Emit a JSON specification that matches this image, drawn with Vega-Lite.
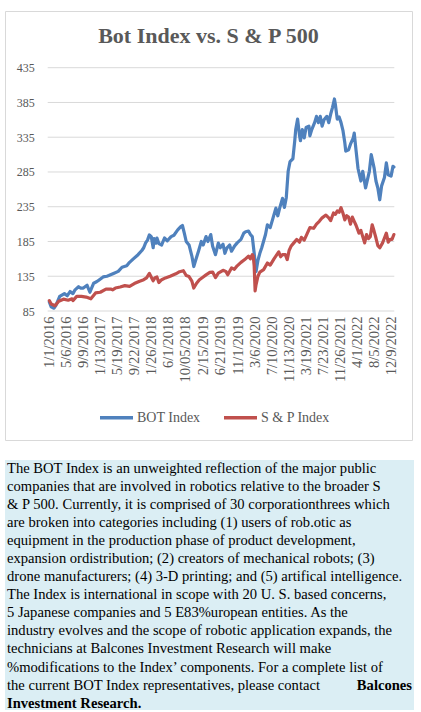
{
  "$schema": "https://vega.github.io/schema/vega-lite/v6.json",
  "background": "white",
  "padding": {"left": 4, "top": 10, "right": 8, "bottom": 4},
  "spacing": 19,
  "config": {"view": {"stroke": null}, "font": "Liberation Serif", "axisX": {"labelOverlap": false}},
  "datasets": {
    "indices": [
      {"date": "2016-01-01", "index": "BOT Index", "value": 98},
      {"date": "2016-01-15", "index": "BOT Index", "value": 91},
      {"date": "2016-02-05", "index": "BOT Index", "value": 89},
      {"date": "2016-02-19", "index": "BOT Index", "value": 93},
      {"date": "2016-03-18", "index": "BOT Index", "value": 106},
      {"date": "2016-04-22", "index": "BOT Index", "value": 110},
      {"date": "2016-05-13", "index": "BOT Index", "value": 107},
      {"date": "2016-06-03", "index": "BOT Index", "value": 113},
      {"date": "2016-06-24", "index": "BOT Index", "value": 110},
      {"date": "2016-07-08", "index": "BOT Index", "value": 115},
      {"date": "2016-08-05", "index": "BOT Index", "value": 120},
      {"date": "2016-08-19", "index": "BOT Index", "value": 118},
      {"date": "2016-09-09", "index": "BOT Index", "value": 118},
      {"date": "2016-10-07", "index": "BOT Index", "value": 122},
      {"date": "2016-10-28", "index": "BOT Index", "value": 112},
      {"date": "2016-11-25", "index": "BOT Index", "value": 125},
      {"date": "2016-12-16", "index": "BOT Index", "value": 127},
      {"date": "2016-12-30", "index": "BOT Index", "value": 129},
      {"date": "2017-02-03", "index": "BOT Index", "value": 134},
      {"date": "2017-03-03", "index": "BOT Index", "value": 135},
      {"date": "2017-03-17", "index": "BOT Index", "value": 136},
      {"date": "2017-04-21", "index": "BOT Index", "value": 139},
      {"date": "2017-05-26", "index": "BOT Index", "value": 142},
      {"date": "2017-06-23", "index": "BOT Index", "value": 148},
      {"date": "2017-07-28", "index": "BOT Index", "value": 150},
      {"date": "2017-08-18", "index": "BOT Index", "value": 155},
      {"date": "2017-09-15", "index": "BOT Index", "value": 160},
      {"date": "2017-10-20", "index": "BOT Index", "value": 166},
      {"date": "2017-11-17", "index": "BOT Index", "value": 172},
      {"date": "2017-12-01", "index": "BOT Index", "value": 176},
      {"date": "2017-12-15", "index": "BOT Index", "value": 183},
      {"date": "2017-12-29", "index": "BOT Index", "value": 187},
      {"date": "2018-01-12", "index": "BOT Index", "value": 194.5},
      {"date": "2018-01-26", "index": "BOT Index", "value": 192},
      {"date": "2018-02-09", "index": "BOT Index", "value": 176},
      {"date": "2018-02-16", "index": "BOT Index", "value": 189},
      {"date": "2018-03-02", "index": "BOT Index", "value": 182.6},
      {"date": "2018-03-09", "index": "BOT Index", "value": 190},
      {"date": "2018-03-23", "index": "BOT Index", "value": 182},
      {"date": "2018-04-13", "index": "BOT Index", "value": 180},
      {"date": "2018-05-04", "index": "BOT Index", "value": 190},
      {"date": "2018-05-25", "index": "BOT Index", "value": 186},
      {"date": "2018-06-22", "index": "BOT Index", "value": 192},
      {"date": "2018-07-13", "index": "BOT Index", "value": 194},
      {"date": "2018-08-10", "index": "BOT Index", "value": 201.7},
      {"date": "2018-08-31", "index": "BOT Index", "value": 206},
      {"date": "2018-09-14", "index": "BOT Index", "value": 208},
      {"date": "2018-09-28", "index": "BOT Index", "value": 197},
      {"date": "2018-10-12", "index": "BOT Index", "value": 185},
      {"date": "2018-11-02", "index": "BOT Index", "value": 180},
      {"date": "2018-11-23", "index": "BOT Index", "value": 164},
      {"date": "2018-12-07", "index": "BOT Index", "value": 149},
      {"date": "2018-12-21", "index": "BOT Index", "value": 158},
      {"date": "2019-01-11", "index": "BOT Index", "value": 171},
      {"date": "2019-02-01", "index": "BOT Index", "value": 185},
      {"date": "2019-02-15", "index": "BOT Index", "value": 180},
      {"date": "2019-03-08", "index": "BOT Index", "value": 192},
      {"date": "2019-03-22", "index": "BOT Index", "value": 185},
      {"date": "2019-04-12", "index": "BOT Index", "value": 195},
      {"date": "2019-04-26", "index": "BOT Index", "value": 178},
      {"date": "2019-05-17", "index": "BOT Index", "value": 166},
      {"date": "2019-06-07", "index": "BOT Index", "value": 182.6},
      {"date": "2019-06-21", "index": "BOT Index", "value": 176},
      {"date": "2019-07-12", "index": "BOT Index", "value": 181},
      {"date": "2019-07-26", "index": "BOT Index", "value": 168},
      {"date": "2019-08-09", "index": "BOT Index", "value": 175.5},
      {"date": "2019-08-30", "index": "BOT Index", "value": 180},
      {"date": "2019-09-13", "index": "BOT Index", "value": 171},
      {"date": "2019-10-04", "index": "BOT Index", "value": 178},
      {"date": "2019-10-25", "index": "BOT Index", "value": 183},
      {"date": "2019-11-22", "index": "BOT Index", "value": 188},
      {"date": "2019-12-13", "index": "BOT Index", "value": 197},
      {"date": "2019-12-27", "index": "BOT Index", "value": 199},
      {"date": "2020-01-17", "index": "BOT Index", "value": 200},
      {"date": "2020-01-31", "index": "BOT Index", "value": 195},
      {"date": "2020-02-14", "index": "BOT Index", "value": 192},
      {"date": "2020-02-28", "index": "BOT Index", "value": 168},
      {"date": "2020-03-13", "index": "BOT Index", "value": 142},
      {"date": "2020-03-27", "index": "BOT Index", "value": 158},
      {"date": "2020-04-10", "index": "BOT Index", "value": 168},
      {"date": "2020-04-24", "index": "BOT Index", "value": 176},
      {"date": "2020-05-22", "index": "BOT Index", "value": 195},
      {"date": "2020-06-05", "index": "BOT Index", "value": 209},
      {"date": "2020-06-26", "index": "BOT Index", "value": 205},
      {"date": "2020-07-17", "index": "BOT Index", "value": 219},
      {"date": "2020-08-07", "index": "BOT Index", "value": 233},
      {"date": "2020-08-21", "index": "BOT Index", "value": 222},
      {"date": "2020-09-04", "index": "BOT Index", "value": 233},
      {"date": "2020-09-25", "index": "BOT Index", "value": 247},
      {"date": "2020-10-09", "index": "BOT Index", "value": 234},
      {"date": "2020-10-23", "index": "BOT Index", "value": 248},
      {"date": "2020-11-06", "index": "BOT Index", "value": 286},
      {"date": "2020-11-20", "index": "BOT Index", "value": 300},
      {"date": "2020-12-11", "index": "BOT Index", "value": 304},
      {"date": "2020-12-25", "index": "BOT Index", "value": 330},
      {"date": "2021-01-01", "index": "BOT Index", "value": 346},
      {"date": "2021-01-15", "index": "BOT Index", "value": 361},
      {"date": "2021-01-29", "index": "BOT Index", "value": 338},
      {"date": "2021-02-05", "index": "BOT Index", "value": 330},
      {"date": "2021-02-19", "index": "BOT Index", "value": 346},
      {"date": "2021-03-05", "index": "BOT Index", "value": 334},
      {"date": "2021-03-19", "index": "BOT Index", "value": 349},
      {"date": "2021-04-09", "index": "BOT Index", "value": 351},
      {"date": "2021-04-16", "index": "BOT Index", "value": 337},
      {"date": "2021-04-30", "index": "BOT Index", "value": 346},
      {"date": "2021-05-21", "index": "BOT Index", "value": 356},
      {"date": "2021-06-04", "index": "BOT Index", "value": 365},
      {"date": "2021-06-18", "index": "BOT Index", "value": 356},
      {"date": "2021-07-02", "index": "BOT Index", "value": 365},
      {"date": "2021-07-16", "index": "BOT Index", "value": 351},
      {"date": "2021-07-30", "index": "BOT Index", "value": 360},
      {"date": "2021-08-20", "index": "BOT Index", "value": 365},
      {"date": "2021-09-03", "index": "BOT Index", "value": 356},
      {"date": "2021-09-17", "index": "BOT Index", "value": 368},
      {"date": "2021-10-01", "index": "BOT Index", "value": 378},
      {"date": "2021-10-15", "index": "BOT Index", "value": 390},
      {"date": "2021-10-22", "index": "BOT Index", "value": 382},
      {"date": "2021-11-05", "index": "BOT Index", "value": 361},
      {"date": "2021-11-19", "index": "BOT Index", "value": 364},
      {"date": "2021-12-03", "index": "BOT Index", "value": 356},
      {"date": "2021-12-17", "index": "BOT Index", "value": 345},
      {"date": "2021-12-31", "index": "BOT Index", "value": 327},
      {"date": "2022-01-07", "index": "BOT Index", "value": 315},
      {"date": "2022-01-28", "index": "BOT Index", "value": 317},
      {"date": "2022-02-11", "index": "BOT Index", "value": 325},
      {"date": "2022-03-04", "index": "BOT Index", "value": 334},
      {"date": "2022-03-11", "index": "BOT Index", "value": 341},
      {"date": "2022-03-25", "index": "BOT Index", "value": 315},
      {"date": "2022-04-08", "index": "BOT Index", "value": 290},
      {"date": "2022-04-29", "index": "BOT Index", "value": 272},
      {"date": "2022-05-13", "index": "BOT Index", "value": 286},
      {"date": "2022-06-03", "index": "BOT Index", "value": 262},
      {"date": "2022-06-17", "index": "BOT Index", "value": 274},
      {"date": "2022-07-01", "index": "BOT Index", "value": 286},
      {"date": "2022-07-15", "index": "BOT Index", "value": 310},
      {"date": "2022-08-05", "index": "BOT Index", "value": 291},
      {"date": "2022-08-19", "index": "BOT Index", "value": 272},
      {"date": "2022-09-02", "index": "BOT Index", "value": 262},
      {"date": "2022-09-16", "index": "BOT Index", "value": 245},
      {"date": "2022-09-30", "index": "BOT Index", "value": 265},
      {"date": "2022-10-21", "index": "BOT Index", "value": 277},
      {"date": "2022-11-04", "index": "BOT Index", "value": 298},
      {"date": "2022-11-18", "index": "BOT Index", "value": 281},
      {"date": "2022-12-09", "index": "BOT Index", "value": 279},
      {"date": "2022-12-23", "index": "BOT Index", "value": 293},
      {"date": "2022-12-30", "index": "BOT Index", "value": 292},
      {"date": "2016-01-01", "index": "S & P Index", "value": 100},
      {"date": "2016-01-15", "index": "S & P Index", "value": 95},
      {"date": "2016-02-12", "index": "S & P Index", "value": 92.5},
      {"date": "2016-03-11", "index": "S & P Index", "value": 99},
      {"date": "2016-04-15", "index": "S & P Index", "value": 102},
      {"date": "2016-05-20", "index": "S & P Index", "value": 100.5},
      {"date": "2016-06-17", "index": "S & P Index", "value": 102.5},
      {"date": "2016-06-24", "index": "S & P Index", "value": 100},
      {"date": "2016-07-22", "index": "S & P Index", "value": 106},
      {"date": "2016-08-26", "index": "S & P Index", "value": 106},
      {"date": "2016-09-30", "index": "S & P Index", "value": 105},
      {"date": "2016-11-04", "index": "S & P Index", "value": 102.5},
      {"date": "2016-12-09", "index": "S & P Index", "value": 111},
      {"date": "2017-01-13", "index": "S & P Index", "value": 112},
      {"date": "2017-02-24", "index": "S & P Index", "value": 116.5},
      {"date": "2017-03-31", "index": "S & P Index", "value": 116.5},
      {"date": "2017-04-14", "index": "S & P Index", "value": 115.5},
      {"date": "2017-05-05", "index": "S & P Index", "value": 118},
      {"date": "2017-06-09", "index": "S & P Index", "value": 119.5},
      {"date": "2017-07-14", "index": "S & P Index", "value": 121.5},
      {"date": "2017-08-18", "index": "S & P Index", "value": 120.5},
      {"date": "2017-09-22", "index": "S & P Index", "value": 124.5},
      {"date": "2017-10-27", "index": "S & P Index", "value": 127.5},
      {"date": "2017-12-01", "index": "S & P Index", "value": 130},
      {"date": "2017-12-22", "index": "S & P Index", "value": 132.6},
      {"date": "2018-01-12", "index": "S & P Index", "value": 139},
      {"date": "2018-02-09", "index": "S & P Index", "value": 128.5},
      {"date": "2018-02-23", "index": "S & P Index", "value": 133},
      {"date": "2018-03-09", "index": "S & P Index", "value": 134},
      {"date": "2018-03-23", "index": "S & P Index", "value": 126},
      {"date": "2018-04-13", "index": "S & P Index", "value": 130},
      {"date": "2018-05-11", "index": "S & P Index", "value": 132.6},
      {"date": "2018-06-15", "index": "S & P Index", "value": 135},
      {"date": "2018-07-27", "index": "S & P Index", "value": 138.5},
      {"date": "2018-08-24", "index": "S & P Index", "value": 141.5},
      {"date": "2018-09-21", "index": "S & P Index", "value": 143},
      {"date": "2018-10-12", "index": "S & P Index", "value": 136},
      {"date": "2018-11-02", "index": "S & P Index", "value": 134.5},
      {"date": "2018-11-23", "index": "S & P Index", "value": 128},
      {"date": "2018-12-07", "index": "S & P Index", "value": 118},
      {"date": "2018-12-28", "index": "S & P Index", "value": 125},
      {"date": "2019-01-18", "index": "S & P Index", "value": 130},
      {"date": "2019-02-15", "index": "S & P Index", "value": 134},
      {"date": "2019-03-08", "index": "S & P Index", "value": 137},
      {"date": "2019-04-05", "index": "S & P Index", "value": 140.5},
      {"date": "2019-04-26", "index": "S & P Index", "value": 141},
      {"date": "2019-05-17", "index": "S & P Index", "value": 133},
      {"date": "2019-06-07", "index": "S & P Index", "value": 139.5},
      {"date": "2019-07-12", "index": "S & P Index", "value": 143.5},
      {"date": "2019-08-02", "index": "S & P Index", "value": 142},
      {"date": "2019-08-16", "index": "S & P Index", "value": 137},
      {"date": "2019-09-13", "index": "S & P Index", "value": 147},
      {"date": "2019-10-04", "index": "S & P Index", "value": 145},
      {"date": "2019-10-25", "index": "S & P Index", "value": 150},
      {"date": "2019-11-22", "index": "S & P Index", "value": 155},
      {"date": "2019-12-20", "index": "S & P Index", "value": 159},
      {"date": "2020-01-17", "index": "S & P Index", "value": 164},
      {"date": "2020-01-31", "index": "S & P Index", "value": 160},
      {"date": "2020-02-14", "index": "S & P Index", "value": 166},
      {"date": "2020-02-21", "index": "S & P Index", "value": 164},
      {"date": "2020-02-28", "index": "S & P Index", "value": 150},
      {"date": "2020-03-06", "index": "S & P Index", "value": 114},
      {"date": "2020-03-13", "index": "S & P Index", "value": 123},
      {"date": "2020-03-27", "index": "S & P Index", "value": 135},
      {"date": "2020-04-10", "index": "S & P Index", "value": 141},
      {"date": "2020-05-08", "index": "S & P Index", "value": 144.5},
      {"date": "2020-06-05", "index": "S & P Index", "value": 154},
      {"date": "2020-06-26", "index": "S & P Index", "value": 151},
      {"date": "2020-07-24", "index": "S & P Index", "value": 160},
      {"date": "2020-08-14", "index": "S & P Index", "value": 166},
      {"date": "2020-08-28", "index": "S & P Index", "value": 170},
      {"date": "2020-09-11", "index": "S & P Index", "value": 163},
      {"date": "2020-09-25", "index": "S & P Index", "value": 166},
      {"date": "2020-10-16", "index": "S & P Index", "value": 166},
      {"date": "2020-10-30", "index": "S & P Index", "value": 159},
      {"date": "2020-11-13", "index": "S & P Index", "value": 172},
      {"date": "2020-11-27", "index": "S & P Index", "value": 178},
      {"date": "2020-12-18", "index": "S & P Index", "value": 183},
      {"date": "2021-01-08", "index": "S & P Index", "value": 188},
      {"date": "2021-01-29", "index": "S & P Index", "value": 184},
      {"date": "2021-02-12", "index": "S & P Index", "value": 191},
      {"date": "2021-03-05", "index": "S & P Index", "value": 187},
      {"date": "2021-03-26", "index": "S & P Index", "value": 196},
      {"date": "2021-04-16", "index": "S & P Index", "value": 205},
      {"date": "2021-05-14", "index": "S & P Index", "value": 204},
      {"date": "2021-06-04", "index": "S & P Index", "value": 210},
      {"date": "2021-06-25", "index": "S & P Index", "value": 214},
      {"date": "2021-07-16", "index": "S & P Index", "value": 219},
      {"date": "2021-08-13", "index": "S & P Index", "value": 223},
      {"date": "2021-09-03", "index": "S & P Index", "value": 219},
      {"date": "2021-09-17", "index": "S & P Index", "value": 215},
      {"date": "2021-10-08", "index": "S & P Index", "value": 226},
      {"date": "2021-10-22", "index": "S & P Index", "value": 224},
      {"date": "2021-11-05", "index": "S & P Index", "value": 229},
      {"date": "2021-11-19", "index": "S & P Index", "value": 227},
      {"date": "2021-12-03", "index": "S & P Index", "value": 233.6},
      {"date": "2021-12-17", "index": "S & P Index", "value": 226},
      {"date": "2021-12-31", "index": "S & P Index", "value": 216},
      {"date": "2022-01-14", "index": "S & P Index", "value": 222},
      {"date": "2022-01-28", "index": "S & P Index", "value": 220},
      {"date": "2022-02-11", "index": "S & P Index", "value": 210},
      {"date": "2022-02-25", "index": "S & P Index", "value": 220},
      {"date": "2022-03-11", "index": "S & P Index", "value": 214},
      {"date": "2022-03-25", "index": "S & P Index", "value": 208},
      {"date": "2022-04-15", "index": "S & P Index", "value": 197},
      {"date": "2022-04-29", "index": "S & P Index", "value": 201},
      {"date": "2022-05-13", "index": "S & P Index", "value": 192},
      {"date": "2022-05-27", "index": "S & P Index", "value": 183},
      {"date": "2022-06-10", "index": "S & P Index", "value": 195},
      {"date": "2022-06-24", "index": "S & P Index", "value": 189},
      {"date": "2022-07-08", "index": "S & P Index", "value": 192},
      {"date": "2022-07-22", "index": "S & P Index", "value": 209},
      {"date": "2022-08-05", "index": "S & P Index", "value": 200},
      {"date": "2022-08-19", "index": "S & P Index", "value": 190},
      {"date": "2022-09-02", "index": "S & P Index", "value": 179},
      {"date": "2022-09-16", "index": "S & P Index", "value": 176},
      {"date": "2022-09-23", "index": "S & P Index", "value": 178},
      {"date": "2022-10-07", "index": "S & P Index", "value": 183},
      {"date": "2022-10-21", "index": "S & P Index", "value": 190},
      {"date": "2022-11-04", "index": "S & P Index", "value": 197},
      {"date": "2022-11-18", "index": "S & P Index", "value": 184},
      {"date": "2022-12-02", "index": "S & P Index", "value": 188},
      {"date": "2022-12-16", "index": "S & P Index", "value": 188},
      {"date": "2022-12-30", "index": "S & P Index", "value": 195}
    ],
    "blurb": [
      {"line": 1, "part": "body", "text": "\u00a0\u00a0The BOT Index is an unweighted reflection of the major public"},
      {"line": 2, "part": "body", "text": "companies that are involved in robotics relative to the broader S"},
      {"line": 3, "part": "body", "text": "& P 500. Currently, it is comprised of 30 corporationthrees which"},
      {"line": 4, "part": "body", "text": "are broken into categories including (1) users of rob.otic as"},
      {"line": 5, "part": "body", "text": "equipment in the production phase of product development,"},
      {"line": 6, "part": "body", "text": "expansion ordistribution; (2) creators of mechanical robots; (3)"},
      {"line": 7, "part": "body", "text": "drone manufacturers; (4) 3-D printing; and (5) artifical intelligence."},
      {"line": 8, "part": "body", "text": "The Index is international in scope with 20 U. S. based concerns,"},
      {"line": 9, "part": "body", "text": "5 Japanese companies and 5 E83%uropean entities. As the"},
      {"line": 10, "part": "body", "text": "industry evolves and the scope of robotic application expands, the"},
      {"line": 11, "part": "body", "text": "technicians at Balcones Investment Research will make"},
      {"line": 12, "part": "body", "text": "%modifications to the Index’ components. For a  complete list of"},
      {"line": 13, "part": "body", "text": "the current BOT Index representatives, please contact"},
      {"line": 13, "part": "contact", "text": "Balcones"},
      {"line": 14, "part": "contact", "text": "Investment Research."}
    ]
  },
  "vconcat": [
    {
      "width": 407,
      "height": 429,
      "view": {"stroke": "#d9d9d9", "strokeWidth": 1, "fill": "white"},
      "title": {
        "text": "Bot Index vs. S & P 500",
        "font": "Liberation Serif",
        "fontSize": 22,
        "fontWeight": "bold",
        "color": "#595959",
        "anchor": "middle",
        "frame": "group",
        "baseline": "alphabetic",
        "offset": -54
      },
      "encoding": {
        "y": {
          "field": "value",
          "type": "quantitative",
          "scale": {"domain": [85, 435], "range": [300, 56.7], "nice": false, "zero": false},
          "axis": {
            "orient": "left",
            "offset": -42.7,
            "values": [85, 135, 185, 235, 285, 335, 385, 435],
            "domain": false,
            "ticks": false,
            "grid": false,
            "labelPadding": 13.4,
            "labelFont": "Liberation Serif",
            "labelFontSize": 12,
            "labelColor": "#595959",
            "title": null
          }
        }
      },
      "layer": [
        {
          "data": {"values": [
            {"value": 85}, {"value": 135}, {"value": 185}, {"value": 235},
            {"value": 285}, {"value": 335}, {"value": 385}, {"value": 435}
          ]},
          "mark": {"type": "rule", "color": "#d9d9d9", "strokeWidth": 1},
          "encoding": {
            "x": {
              "datum": {"year": 2015, "month": 12, "date": 20, "utc": true},
              "type": "temporal",
              "scale": {
                "type": "utc",
                "domain": [
                  {"year": 2015, "month": 12, "date": 20, "utc": true},
                  {"year": 2023, "month": 1, "date": 2, "utc": true}
                ],
                "range": [42.7, 389.3]
              },
              "axis": {
                "orient": "bottom",
                "offset": -129,
                "values": [
                  {"year": 2016, "month": 1, "date": 1, "utc": true},
                  {"year": 2016, "month": 5, "date": 6, "utc": true},
                  {"year": 2016, "month": 9, "date": 9, "utc": true},
                  {"year": 2017, "month": 1, "date": 13, "utc": true},
                  {"year": 2017, "month": 5, "date": 19, "utc": true},
                  {"year": 2017, "month": 9, "date": 22, "utc": true},
                  {"year": 2018, "month": 1, "date": 26, "utc": true},
                  {"year": 2018, "month": 6, "date": 1, "utc": true},
                  {"year": 2018, "month": 10, "date": 5, "utc": true},
                  {"year": 2019, "month": 2, "date": 15, "utc": true},
                  {"year": 2019, "month": 6, "date": 21, "utc": true},
                  {"year": 2019, "month": 11, "date": 1, "utc": true},
                  {"year": 2020, "month": 3, "date": 6, "utc": true},
                  {"year": 2020, "month": 7, "date": 10, "utc": true},
                  {"year": 2020, "month": 11, "date": 13, "utc": true},
                  {"year": 2021, "month": 3, "date": 19, "utc": true},
                  {"year": 2021, "month": 7, "date": 23, "utc": true},
                  {"year": 2021, "month": 11, "date": 26, "utc": true},
                  {"year": 2022, "month": 4, "date": 1, "utc": true},
                  {"year": 2022, "month": 8, "date": 5, "utc": true},
                  {"year": 2022, "month": 12, "date": 9, "utc": true}
                ],
                "labelExpr": "utcyear(datum.value) == 2018 && utcmonth(datum.value) == 9 ? '10/05/2018' : utcFormat(datum.value, '%-m/%-d/%Y')",
                "labelAngle": -90,
                "labelPadding": 5,
                "labelFont": "Liberation Serif",
                "labelFontSize": 14.5,
                "labelColor": "#595959",
                "labelOverlap": false,
                "labelSeparation": 0,
                "labelFlush": false,
                "labelBound": false,
                "domain": false,
                "ticks": false,
                "grid": false,
                "title": null
              }
            },
            "x2": {"datum": {"year": 2023, "month": 1, "date": 2, "utc": true}}
          }
        },
        {
          "data": {"name": "indices"},
          "mark": {"type": "line", "strokeWidth": 3.2, "strokeJoin": "round", "strokeCap": "round"},
          "encoding": {
            "x": {
              "field": "date",
              "type": "temporal",
              "scale": {
                "type": "utc",
                "domain": [
                  {"year": 2015, "month": 12, "date": 20, "utc": true},
                  {"year": 2023, "month": 1, "date": 2, "utc": true}
                ],
                "range": [42.7, 389.3]
              },
              "axis": {
                "orient": "bottom",
                "offset": -129,
                "values": [
                  {"year": 2016, "month": 1, "date": 1, "utc": true},
                  {"year": 2016, "month": 5, "date": 6, "utc": true},
                  {"year": 2016, "month": 9, "date": 9, "utc": true},
                  {"year": 2017, "month": 1, "date": 13, "utc": true},
                  {"year": 2017, "month": 5, "date": 19, "utc": true},
                  {"year": 2017, "month": 9, "date": 22, "utc": true},
                  {"year": 2018, "month": 1, "date": 26, "utc": true},
                  {"year": 2018, "month": 6, "date": 1, "utc": true},
                  {"year": 2018, "month": 10, "date": 5, "utc": true},
                  {"year": 2019, "month": 2, "date": 15, "utc": true},
                  {"year": 2019, "month": 6, "date": 21, "utc": true},
                  {"year": 2019, "month": 11, "date": 1, "utc": true},
                  {"year": 2020, "month": 3, "date": 6, "utc": true},
                  {"year": 2020, "month": 7, "date": 10, "utc": true},
                  {"year": 2020, "month": 11, "date": 13, "utc": true},
                  {"year": 2021, "month": 3, "date": 19, "utc": true},
                  {"year": 2021, "month": 7, "date": 23, "utc": true},
                  {"year": 2021, "month": 11, "date": 26, "utc": true},
                  {"year": 2022, "month": 4, "date": 1, "utc": true},
                  {"year": 2022, "month": 8, "date": 5, "utc": true},
                  {"year": 2022, "month": 12, "date": 9, "utc": true}
                ],
                "labelExpr": "utcyear(datum.value) == 2018 && utcmonth(datum.value) == 9 ? '10/05/2018' : utcFormat(datum.value, '%-m/%-d/%Y')",
                "labelAngle": -90,
                "labelPadding": 5,
                "labelFont": "Liberation Serif",
                "labelFontSize": 14.5,
                "labelColor": "#595959",
                "labelOverlap": false,
                "labelSeparation": 0,
                "labelFlush": false,
                "labelBound": false,
                "domain": false,
                "ticks": false,
                "grid": false,
                "title": null
              }
            },
            "color": {
              "field": "index",
              "type": "nominal",
              "scale": {"domain": ["BOT Index", "S & P Index"], "range": ["#4f81bd", "#c0504d"]},
              "legend": {
                "orient": "none",
                "legendX": 93,
                "legendY": 388,
                "direction": "horizontal",
                "title": null,
                "symbolType": "stroke",
                "symbolSize": 1089,
                "symbolStrokeWidth": 3.5,
                "labelFont": "Liberation Serif",
                "labelFontSize": 14,
                "labelColor": "#595959",
                "labelOffset": 2,
                "labelLimit": 0,
                "columnPadding": 16
              }
            }
          }
        }
      ]
    },
    {
      "width": 409,
      "height": 250,
      "view": {"fill": "#dbeef4", "stroke": null},
      "data": {"name": "blurb"},
      "encoding": {
        "y": {
          "field": "line",
          "type": "quantitative",
          "scale": {"domain": [0.52, 14.35], "reverse": true, "nice": false, "zero": false},
          "axis": null
        },
        "text": {"field": "text"}
      },
      "layer": [
        {
          "transform": [{"filter": "datum.part == 'body'"}],
          "mark": {"type": "text", "align": "left", "baseline": "middle", "font": "Liberation Serif", "fontSize": 14.6, "color": "#000000", "dx": 2},
          "encoding": {
            "x": {"datum": 0, "type": "quantitative", "scale": {"domain": [0, 1], "nice": false}, "axis": null}
          }
        },
        {
          "transform": [{"filter": "datum.part == 'contact' && datum.line == 13"}],
          "mark": {"type": "text", "align": "right", "baseline": "middle", "font": "Liberation Serif", "fontSize": 14.6, "fontWeight": "bold", "color": "#000000", "dx": -2},
          "encoding": {
            "x": {"datum": 1, "type": "quantitative"}
          }
        },
        {
          "transform": [{"filter": "datum.part == 'contact' && datum.line == 14"}],
          "mark": {"type": "text", "align": "left", "baseline": "middle", "font": "Liberation Serif", "fontSize": 14.6, "fontWeight": "bold", "color": "#000000", "dx": 2},
          "encoding": {
            "x": {"datum": 0, "type": "quantitative"}
          }
        }
      ]
    }
  ]
}
